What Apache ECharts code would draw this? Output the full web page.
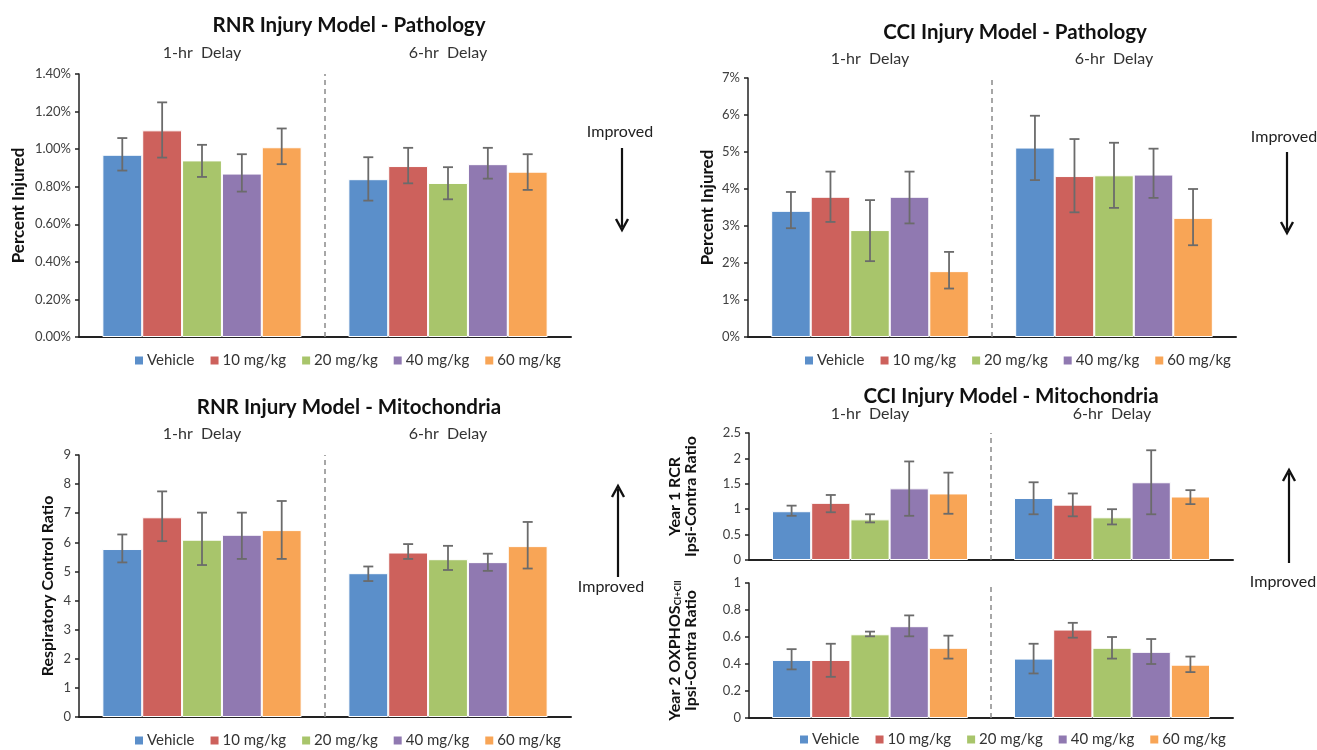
<!DOCTYPE html>
<html>
<head>
<meta charset="utf-8">
<script src="https://cdn.jsdelivr.net/npm/echarts@6/dist/echarts.min.js"></script>
<style>
html,body{margin:0;padding:0;background:#fff;}
#main{width:1317px;height:750px;}
</style>
</head>
<body>
<div id="main"></div>
<script>
// ---------------- DATA ----------------
const categories = ['1-hr  Delay', '6-hr  Delay'];
const seriesNames = ['Vehicle', '10 mg/kg', '20 mg/kg', '40 mg/kg', '60 mg/kg'];

// RNR Injury Model - Pathology (percent injured); each row = dose, [1-hr, 6-hr]
const rnrPathMean = [[0.97, 0.84], [1.10, 0.91], [0.94, 0.82], [0.87, 0.92], [1.01, 0.88]];
const rnrPathLow  = [[0.886, 0.726], [0.955, 0.818], [0.852, 0.733], [0.774, 0.843], [0.920, 0.783]];
const rnrPathHigh = [[1.059, 0.957], [1.249, 1.007], [1.023, 0.904], [0.973, 1.007], [1.110, 0.973]];

// CCI Injury Model - Pathology (percent injured)
const cciPathMean = [[3.41, 5.12], [3.79, 4.35], [2.89, 4.37], [3.79, 4.39], [1.78, 3.22]];
const cciPathLow  = [[2.94, 4.24], [3.11, 3.37], [2.05, 3.49], [3.07, 3.76], [1.31, 2.48]];
const cciPathHigh = [[3.92, 5.98], [4.47, 5.35], [3.70, 5.25], [4.47, 5.09], [2.30, 4.00]];

// RNR Injury Model - Mitochondria (respiratory control ratio)
const rnrMitoMean = [[5.77, 4.94], [6.86, 5.65], [6.09, 5.42], [6.26, 5.32], [6.42, 5.87]];
const rnrMitoLow  = [[5.31, 4.67], [6.04, 5.43], [5.22, 5.05], [5.43, 5.02], [5.43, 5.10]];
const rnrMitoHigh = [[6.27, 5.17], [7.75, 5.94], [7.02, 5.88], [7.02, 5.61], [7.42, 6.70]];

// CCI Injury Model - Mitochondria, Year 1 RCR ipsi-contra ratio
const cciRcrMean = [[0.96, 1.22], [1.125, 1.09], [0.80, 0.84], [1.41, 1.53], [1.31, 1.25]];
const cciRcrLow  = [[0.87, 0.90], [0.94, 0.86], [0.74, 0.70], [0.87, 0.90], [0.91, 1.10]];
const cciRcrHigh = [[1.07, 1.53], [1.28, 1.31], [0.90, 1.00], [1.94, 2.16], [1.72, 1.375]];

// CCI Injury Model - Mitochondria, Year 2 OXPHOS CI+CII ipsi-contra ratio
const cciOxMean = [[0.43, 0.44], [0.43, 0.655], [0.62, 0.52], [0.68, 0.49], [0.52, 0.395]];
const cciOxLow  = [[0.36, 0.33], [0.305, 0.595], [0.605, 0.44], [0.605, 0.40], [0.44, 0.34]];
const cciOxHigh = [[0.51, 0.55], [0.55, 0.705], [0.64, 0.60], [0.76, 0.585], [0.61, 0.455]];

// Tick settings
const rnrPathTicks = {min: 0, max: 1.4, interval: 0.2};
const cciPathTicks = {min: 0, max: 7, interval: 1};
const rnrMitoTicks = {min: 0, max: 9, interval: 1};
const cciRcrTicks  = {min: 0, max: 2.5, interval: 0.5};
const cciOxTicks   = {min: 0, max: 1, interval: 0.2};

// ---------------- STYLE / LAYOUT ----------------
const colors = ['#5b8fca', '#cd615c', '#a8c56b', '#9079b1', '#f8a556'];
const FONT = 'Lato, "Open Sans", sans-serif';
const CAT_GAP = 0.19; // fraction of band left empty

const panels = [
  {grid: {left: 79, top: 74, width: 492, height: 263}, mean: rnrPathMean, low: rnrPathLow, high: rnrPathHigh,
   ticks: rnrPathTicks, fmt: v => v.toFixed(2) + '%', name: '{b|Percent Injured}', nameGap: 52, topLabels: 13},
  {grid: {left: 748, top: 78, width: 488, height: 259}, mean: cciPathMean, low: cciPathLow, high: cciPathHigh,
   ticks: cciPathTicks, fmt: v => v + '%', name: '{b|Percent Injured}', nameGap: 32, topLabels: 11},
  {grid: {left: 79, top: 455, width: 492, height: 262}, mean: rnrMitoMean, low: rnrMitoLow, high: rnrMitoHigh,
   ticks: rnrMitoTicks, fmt: v => String(v), name: '{a|Respiratory Control Ratio}', nameGap: 23, topLabels: 13},
  {grid: {left: 749, top: 433, width: 484, height: 127}, mean: cciRcrMean, low: cciRcrLow, high: cciRcrHigh,
   ticks: cciRcrTicks, fmt: v => String(v), name: '{a|Year 1 RCR}\n{a|Ipsi-Contra Ratio}', nameGap: 50, topLabels: 11},
  {grid: {left: 749, top: 583, width: 484, height: 135}, mean: cciOxMean, low: cciOxLow, high: cciOxHigh,
   ticks: cciOxTicks, fmt: v => String(v), name: '{a|Year 2 OXPHOS}{s|CI+CII}\n{a|Ipsi-Contra Ratio}', nameGap: 50, topLabels: null}
];

function errRender(params, api) {
  const cat = api.value(0), s = api.value(1);
  const lo = api.coord([cat, api.value(2)]);
  const hi = api.coord([cat, api.value(3)]);
  const band = api.size([1, 0])[0];
  const gw = band * (1 - CAT_GAP);
  const bw = gw / 5;
  const x = lo[0] - gw / 2 + bw * (s + 0.5);
  const cap = 5;
  const st = {stroke: '#6b6b6b', lineWidth: 1.8};
  return {type: 'group', children: [
    {type: 'line', shape: {x1: x, y1: hi[1], x2: x, y2: lo[1]}, style: st},
    {type: 'line', shape: {x1: x - cap, y1: hi[1], x2: x + cap, y2: hi[1]}, style: st},
    {type: 'line', shape: {x1: x - cap, y1: lo[1], x2: x + cap, y2: lo[1]}, style: st}
  ]};
}

const nameRich = {
  b: {fontSize: 17, fontWeight: 'bold', color: '#111', fontFamily: FONT, lineHeight: 17},
  a: {fontSize: 16, fontWeight: 'bold', color: '#111', fontFamily: FONT, lineHeight: 16},
  s: {fontSize: 9, fontWeight: 'bold', color: '#111', fontFamily: FONT, lineHeight: 16, verticalAlign: 'bottom'}
};

const grid = [], xAxis = [], yAxis = [], series = [];
panels.forEach((p, pi) => {
  grid.push(p.grid);
  const xi = xAxis.length;
  xAxis.push({
    type: 'category', gridIndex: pi, data: categories, position: 'bottom',
    axisLine: {show: true, lineStyle: {color: '#222', width: 2}},
    axisTick: {show: false}, axisLabel: {show: false}, splitLine: {show: false}
  });
  if (p.topLabels !== null) {
    xAxis.push({
      type: 'category', gridIndex: pi, data: categories, position: 'top',
      axisLine: {show: false}, axisTick: {show: false}, splitLine: {show: false},
      axisLabel: {show: true, margin: p.topLabels, fontSize: 16, color: '#333', fontFamily: FONT}
    });
  }
  // hidden value axis spanning the category bands, used for the group divider
  const vi = xAxis.length;
  xAxis.push({type: 'value', gridIndex: pi, min: 0, max: categories.length, show: false});
  yAxis.push({
    type: 'value', gridIndex: pi, min: p.ticks.min, max: p.ticks.max, interval: p.ticks.interval,
    axisLine: {show: true, lineStyle: {color: '#222', width: 1.5}},
    axisTick: {show: true, length: 4, lineStyle: {color: '#222', width: 1.5}},
    splitLine: {show: false},
    axisLabel: {fontSize: 13, color: '#404040', fontFamily: FONT, margin: 8, formatter: p.fmt},
    name: p.name, nameLocation: 'middle', nameRotate: 90, nameGap: p.nameGap,
    nameTextStyle: {fontSize: 16, fontWeight: 'bold', color: '#111', fontFamily: FONT, rich: nameRich}
  });
  seriesNames.forEach((nm, si) => {
    series.push({
      type: 'bar', name: nm, xAxisIndex: xi, yAxisIndex: pi, data: p.mean[si],
      barGap: '0%', barCategoryGap: (CAT_GAP * 100) + '%',
      itemStyle: {color: colors[si], borderColor: '#fff', borderWidth: 1},
      emphasis: {disabled: true}, animation: false
    });
  });
  const errData = [];
  seriesNames.forEach((nm, si) => {
    categories.forEach((c, ci) => errData.push([ci, si, p.low[si][ci], p.high[si][ci]]));
  });
  series.push({
    type: 'custom', name: 'err' + pi, xAxisIndex: xi, yAxisIndex: pi, data: errData,
    renderItem: errRender, encode: {x: 0, y: [2, 3]}, z: 10, clip: false, animation: false, silent: true
  });
  series.push({
    type: 'line', name: 'divider' + pi, xAxisIndex: vi, yAxisIndex: pi, data: [], silent: true,
    markLine: {symbol: 'none', silent: true, animation: false, label: {show: false},
      lineStyle: {color: '#8a8a8a', type: [5, 4], width: 1.5},
      data: [{xAxis: 1}]}
  });
});

const legendBase = {
  data: seriesNames, icon: 'rect', itemWidth: 10, itemHeight: 10, itemGap: 14,
  textStyle: {fontSize: 15, color: '#333', fontFamily: FONT, padding: [0, 0, 0, -2]}, selectedMode: false
};
const legend = [
  Object.assign({left: 128, top: 348}, legendBase),
  Object.assign({left: 798, top: 348}, legendBase),
  Object.assign({left: 128, top: 728}, legendBase),
  Object.assign({left: 793, top: 727}, legendBase)
];

const titleStyle = {fontSize: 20.5, fontWeight: 'bold', color: '#111', fontFamily: FONT};
const title = [
  {text: 'RNR Injury Model - Pathology', left: 344, top: 10, textAlign: 'center', textStyle: titleStyle},
  {text: 'CCI Injury Model - Pathology', left: 1010, top: 17, textAlign: 'center', textStyle: titleStyle},
  {text: 'RNR Injury Model - Mitochondria', left: 344, top: 392, textAlign: 'center', textStyle: titleStyle},
  {text: 'CCI Injury Model - Mitochondria', left: 1006, top: 381, textAlign: 'center', textStyle: titleStyle}
];

function arrow(x, yTail, yTip) {
  const dir = yTip > yTail ? 1 : -1;
  return [
    {type: 'line', shape: {x1: x, y1: yTail, x2: x, y2: yTip - dir * 3}, style: {stroke: '#111', lineWidth: 2.2}},
    {type: 'polyline', shape: {points: [[x - 6, yTip - dir * 11], [x, yTip], [x + 6, yTip - dir * 11]]},
     style: {stroke: '#111', lineWidth: 2.4, fill: null}}
  ];
}
function txt(x, y, t) {
  return {type: 'text', x: x, y: y, style: {text: t, fontSize: 16, fill: '#222', fontFamily: FONT, align: 'center', verticalAlign: 'middle'}};
}
const graphic = [].concat(
  [txt(620, 132, 'Improved')], arrow(622, 148, 230),
  [txt(1284, 137, 'Improved')], arrow(1287, 152, 233),
  [txt(611, 587, 'Improved')], arrow(618, 577, 486),
  [txt(1283, 582, 'Improved')], arrow(1289, 563, 470)
);

const chart = echarts.init(document.getElementById('main'));
chart.setOption({
  animation: false,
  backgroundColor: '#fff',
  title, legend, grid, xAxis, yAxis, series, graphic
});
</script>
</body>
</html>
